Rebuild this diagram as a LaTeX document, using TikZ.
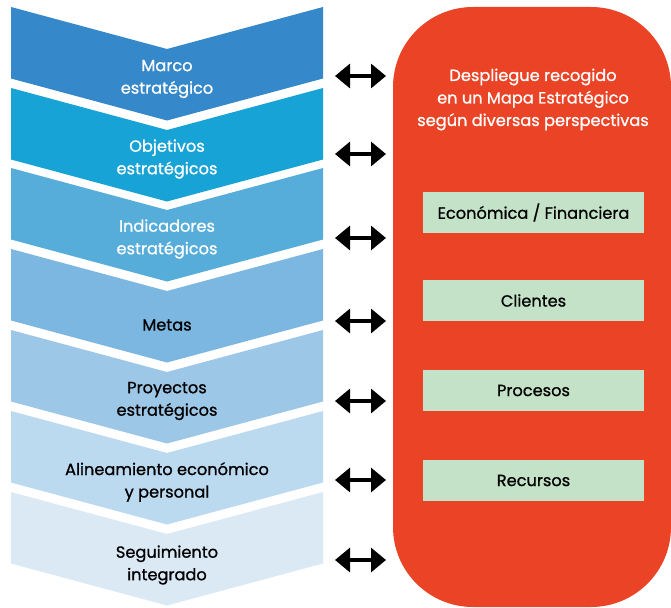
\documentclass[tikz,border=0pt]{standalone}
\usepackage{fontspec}
\setmainfont{Poppins}[FakeBold=0.9,AutoFakeBold=0.9]
\usetikzlibrary{arrows.meta}
\definecolor{cA}{HTML}{3588C9}
\definecolor{cB}{HTML}{17A3D6}
\definecolor{cC}{HTML}{56ADD9}
\definecolor{cD}{HTML}{7BB7E1}
\definecolor{cE}{HTML}{9DC7E7}
\definecolor{cF}{HTML}{BBD9EF}
\definecolor{cG}{HTML}{DBE9F5}
\definecolor{redbg}{HTML}{EB4326}
\definecolor{greenbox}{HTML}{C4E2C8}
\tikzset{
  chevlabel/.style={align=center, font=\fontsize{16.2}{22.5}\selectfont\bfseries, inner sep=0pt},
  persp/.style={fill=greenbox, minimum width=221pt, minimum height=41pt, inner sep=0pt, font=\fontsize{16.2}{18}\selectfont\bfseries},
  link/.style={line width=3.2pt, {Triangle[length=15pt,width=24pt]}-{Triangle[length=15pt,width=24pt]}},
}
\newcommand{\chev}[2]{%
  \fill[#2] (11pt,-#1pt) -- (167pt,-#1pt-42pt) -- (323pt,-#1pt) -- (323pt,-#1pt-71.5pt) -- (167pt,-#1pt-113.5pt) -- (11pt,-#1pt-71.5pt) -- cycle;}
\begin{document}
\begin{tikzpicture}[x=1pt,y=-1pt]
\useasboundingbox (0,0) rectangle (671,607);
% chevrons
\chev{7}{cA}
\chev{88}{cB}
\chev{168}{cC}
\chev{249}{cD}
\chev{330}{cE}
\chev{411}{cF}
\chev{492}{cG}
\node[chevlabel, text=white] (c1) at (167,79) {Marco\\estratégico};
\node[chevlabel, text=white] (c2) at (167,159) {Objetivos\\estratégicos};
\node[chevlabel, text=white] (c3) at (167,239) {Indicadores\\estratégicos};
\node[chevlabel] (c4) at (167,325) {Metas};
\node[chevlabel] (c5) at (167,401) {Proyectos\\estratégicos};
\node[chevlabel] (c6) at (167,482) {Alineamiento económico\\y personal};
\node[chevlabel] (c7) at (167,565) {Seguimiento\\integrado};
% red panel
\fill[redbg, rounded corners=80pt] (393,7) rectangle (671,607);
\node[chevlabel, text=white] (title) at (533,99.5) {Despliegue recogido\\en un Mapa Estratégico\\según diversas perspectivas};
\node[persp] (p1) at (533.5,212.5) {Económica / Financiera};
\node[persp] (p2) at (533.5,300.5) {Clientes};
\node[persp] (p3) at (533.5,390.5) {Procesos};
\node[persp] (p4) at (533.5,480.5) {Recursos};
% arrows
\foreach \i/\y in {1/76,2/154,3/238,4/321,5/401,6/480,7/560}{
  \coordinate (l\i) at (335,\y);
  \coordinate (r\i) at (386,\y);
  \draw[link] (l\i) -- (r\i);
}
\end{tikzpicture}
\end{document}
